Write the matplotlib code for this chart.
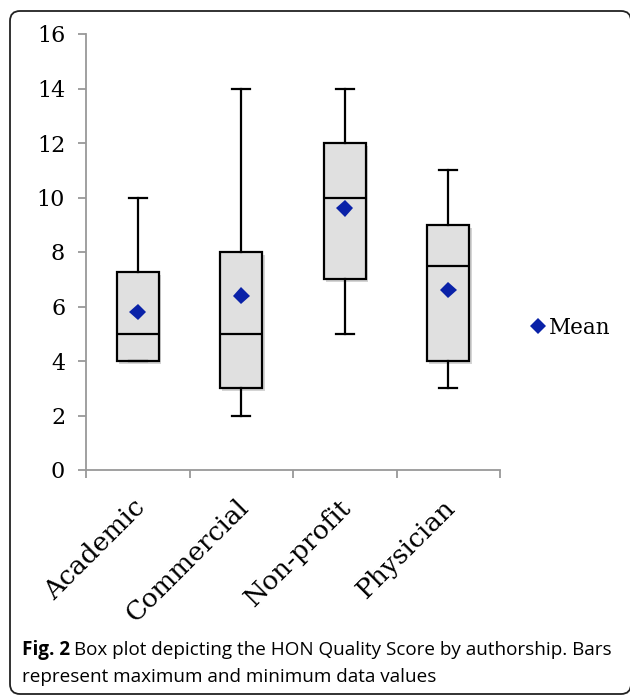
import matplotlib
matplotlib.use("Agg")
import matplotlib.pyplot as plt
from matplotlib.patches import FancyBboxPatch
from matplotlib.lines import Line2D
from matplotlib.transforms import IdentityTransform, ScaledTranslation
import matplotlib.patheffects as pe

categories = ["Academic", "Commercial", "Non-profit", "Physician"]
minimum = [4, 2, 5, 3]
q1 = [4, 3, 7, 4]
median = [5, 5, 10, 7.5]
q3 = [7.25, 8, 12, 9]
maximum = [10, 14, 14, 11]
mean = [5.8, 6.4, 9.6, 6.6]
yticks = [0, 2, 4, 6, 8, 10, 12, 14, 16]

W, H = 630, 697
fig = plt.figure(figsize=(W / 100, H / 100), dpi=100)
fig.patch.set_facecolor("white")

# rounded frame around whole figure
frame = FancyBboxPatch((10, 3), 621, 683, boxstyle="round,pad=0,rounding_size=10",
                       transform=IdentityTransform(), facecolor="none",
                       edgecolor="#222222", linewidth=1.3)
fig.patches.append(frame)

ax = fig.add_axes([86 / W, 1 - 470 / H, 414 / W, 436 / H])

stats = []
for i, c in enumerate(categories):
    stats.append(dict(label=c, whislo=minimum[i], q1=q1[i], med=median[i],
                      q3=q3[i], whishi=maximum[i], fliers=[]))

pos = list(range(1, len(categories) + 1))
shadow = [pe.SimplePatchShadow(offset=(1.5, -2), alpha=0.25, shadow_rgbFace="#555555"), pe.Normal()]
bp = ax.bxp(stats, positions=pos, widths=0.41, patch_artist=True, showfliers=False,
            capwidths=0.17,
            boxprops=dict(facecolor="#e0e0e0", edgecolor="black", linewidth=1.6),
            medianprops=dict(color="black", linewidth=1.6),
            whiskerprops=dict(color="black", linewidth=1.6),
            capprops=dict(color="black", linewidth=1.6))
for b in bp["boxes"]:
    b.set_path_effects(shadow)

ax.plot(pos, mean, linestyle="none", marker="D", markersize=8.5, color="#0a22a8",
        markeredgewidth=0, label="Mean",
        path_effects=[pe.SimpleLineShadow(offset=(1.5, -2), alpha=0.25), pe.Normal()])

ax.set_xlim(0.5, 4.5)
ax.set_ylim(0, 16)
ax.set_yticks(yticks)
ax.set_yticklabels([str(v) for v in yticks])
ax.set_xticks(pos)
ax.set_xticklabels(categories)
ax.set_xticks([0.5, 1.5, 2.5, 3.5, 4.5], minor=True)

for s in ["top", "right"]:
    ax.spines[s].set_visible(False)
for s in ["left", "bottom"]:
    ax.spines[s].set_color("#999999")
    ax.spines[s].set_linewidth(1.3)

serif = "DejaVu Serif"
ax.tick_params(axis="y", length=6, width=1.3, color="#999999", pad=9, labelsize=16)
ax.tick_params(axis="x", which="major", length=0, pad=24, labelsize=19)
ax.tick_params(axis="x", which="minor", length=6, width=1.3, color="#999999", direction="out")
for lab in ax.get_yticklabels():
    lab.set_fontfamily(serif)
shift = ScaledTranslation(3 / 100, 0, fig.dpi_scale_trans)
for lab in ax.get_xticklabels():
    lab.set_fontfamily(serif)
    lab.set_rotation(45)
    lab.set_rotation_mode("anchor")
    lab.set_ha("right")
    lab.set_va("center")
    lab.set_transform(lab.get_transform() + shift)

handle = Line2D([], [], linestyle="none", marker="D", markersize=8.5, color="#0a22a8", markeredgewidth=0)
fig.legend([handle], ["Mean"], loc="center left", bbox_to_anchor=(508 / W, 1 - 328 / H),
           frameon=False, handletextpad=0.0, handlelength=1.0,
           prop=dict(family=serif, size=15.5))

cap_family = ["Open Sans", "DejaVu Sans"]
t1 = fig.text(22 / W, 1 - 650 / H, "Fig. 2", fontsize=13.6, family=cap_family, fontweight="bold",
              va="center", ha="left")
fig.canvas.draw()
bb = t1.get_window_extent()
fig.text((bb.x1 + 4) / W, 1 - 650 / H, "Box plot depicting the HON Quality Score by authorship. Bars",
         fontsize=13.6, family=cap_family, va="center", ha="left")
fig.text(22 / W, 1 - 677 / H, "represent maximum and minimum data values",
         fontsize=13.6, family=cap_family, va="center", ha="left")

fig.savefig("out.png", dpi=100)
